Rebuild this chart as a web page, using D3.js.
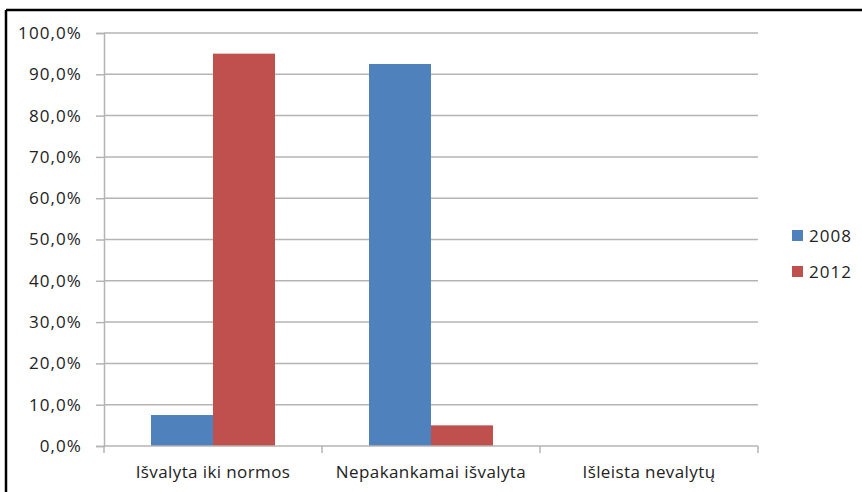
<!DOCTYPE html>
<html>
<head>
<meta charset="utf-8">
<script src="https://cdnjs.cloudflare.com/ajax/libs/d3/7.8.5/d3.min.js"></script>
<style>
  html, body { margin: 0; padding: 0; background: #fff; }
  svg { display: block; }
  text { font-family: "Open Sans", "Noto Sans", sans-serif; fill: #222; }
</style>
</head>
<body>
<svg id="chart" width="862" height="492"></svg>
<script>
// Wastewater treatment shares by category, 2008 vs 2012
const categories = ["Išvalyta iki normos", "Nepakankamai išvalyta", "Išleista nevalytų"];
const years = ["2008", "2012"];
const values2008 = [7.5, 92.5, 0];
const values2012 = [95.0, 5.0, 0];
const yTicks = [0, 10, 20, 30, 40, 50, 60, 70, 80, 90, 100];
const colors = ["#4f81bd", "#c0504d"];

const series = [values2008, values2012];

const svg = d3.select("#chart");
const plot = { left: 104, right: 758, top: 33, bottom: 446 };
const fontSize = 17;

const x = d3.scaleBand().domain(categories).range([plot.left, plot.right]).paddingInner(0).paddingOuter(0);
const bandPad = 47 / 218;
const x1 = d3.scaleBand().domain(years)
  .range([x.bandwidth() * bandPad, x.bandwidth() * (1 - bandPad)]);
const y = d3.scaleLinear().domain([0, 100]).range([plot.bottom, plot.top]);

// outer frame (top and left edges)
svg.append("line").attr("x1", 6).attr("x2", 862).attr("y1", 10).attr("y2", 10)
  .attr("stroke", "#000").attr("stroke-width", 2.5);
svg.append("line").attr("x1", 6).attr("x2", 6).attr("y1", 10).attr("y2", 492)
  .attr("stroke", "#000").attr("stroke-width", 2.5);

// horizontal gridlines
svg.append("g").selectAll("line").data(yTicks.filter(d => d > 0)).join("line")
  .attr("x1", plot.left).attr("x2", plot.right)
  .attr("y1", d => y(d)).attr("y2", d => y(d))
  .attr("stroke", "#b4b4b4").attr("stroke-width", 1.5);

// y axis
const yAxis = d3.axisLeft(y).tickValues(yTicks).tickSize(8).tickPadding(14)
  .tickFormat(d => d3.format(".1f")(d).replace(".", ",") + "%");
const gy = svg.append("g").attr("transform", `translate(${plot.left},0)`).call(yAxis);
gy.select(".domain").attr("stroke", "#b4b4b4").attr("stroke-width", 1.5);
gy.selectAll(".tick line").attr("stroke", "#b4b4b4").attr("stroke-width", 1.5);
gy.selectAll(".tick text").attr("font-size", fontSize).attr("fill", "#222")
  .attr("letter-spacing", 1.1)
  .attr("font-family", "\"Open Sans\", sans-serif");

// bars
const groups = svg.append("g").selectAll("g").data(categories).join("g")
  .attr("transform", d => `translate(${x(d)},0)`);
groups.selectAll("rect")
  .data((c, i) => years.map((yr, k) => ({ yr, k, v: series[k][i] })))
  .join("rect")
  .attr("x", d => x1(d.yr))
  .attr("width", x1.bandwidth())
  .attr("y", d => y(d.v))
  .attr("height", d => plot.bottom - y(d.v))
  .attr("fill", d => colors[d.k]);

// x axis
const xAxis = d3.axisBottom(x).tickSize(0).tickPadding(20);
const gx = svg.append("g").attr("transform", `translate(0,${plot.bottom})`).call(xAxis);
gx.select(".domain").remove();
gx.selectAll(".tick text").attr("font-size", fontSize).attr("fill", "#222")
  .attr("letter-spacing", 0.4)
  .attr("font-family", "\"Open Sans\", sans-serif");
svg.append("line").attr("x1", plot.left).attr("x2", plot.right)
  .attr("y1", plot.bottom).attr("y2", plot.bottom)
  .attr("stroke", "#b4b4b4").attr("stroke-width", 1.5);
// category separator ticks
svg.append("g").selectAll("line").data(d3.range(categories.length + 1)).join("line")
  .attr("x1", i => plot.left + i * x.bandwidth()).attr("x2", i => plot.left + i * x.bandwidth())
  .attr("y1", plot.bottom).attr("y2", plot.bottom + 7)
  .attr("stroke", "#b4b4b4").attr("stroke-width", 1.5);

// legend
const legend = svg.append("g").selectAll("g").data(years).join("g")
  .attr("transform", (d, i) => `translate(792,${230 + i * 36})`);
legend.append("rect").attr("width", 11).attr("height", 11).attr("fill", (d, i) => colors[i]);
legend.append("text").attr("x", 17).attr("y", 6).attr("dy", "0.35em")
  .attr("letter-spacing", 1)
  .attr("font-size", fontSize).text(d => d);
</script>
</body>
</html>
